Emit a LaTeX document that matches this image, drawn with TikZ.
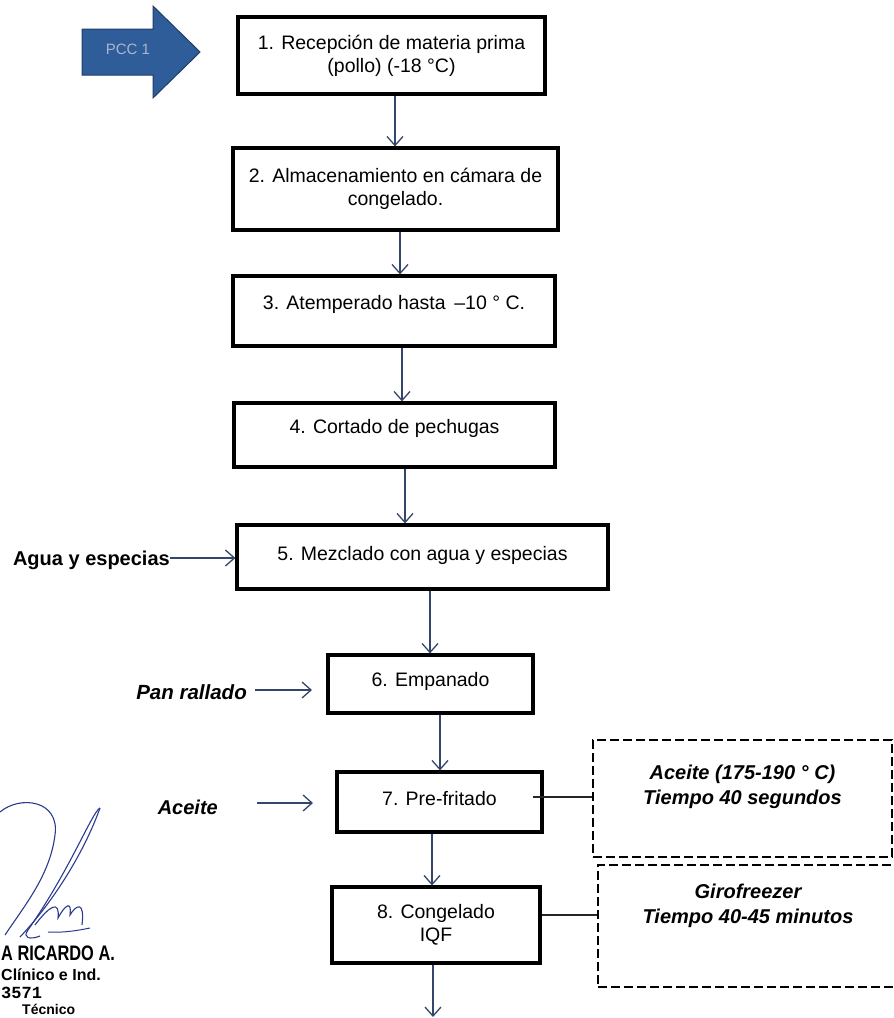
\documentclass[tikz,border=0pt]{standalone}
\usepackage{fontspec}
\setmainfont{Liberation Sans}
\newfontfamily\narrowsans[FakeStretch=0.78]{Liberation Sans}
\newfontfamily\stampmono{Liberation Mono}
\usetikzlibrary{arrows.meta}
\definecolor{flow}{HTML}{34466B}
\definecolor{pccfill}{HTML}{2F5D9A}
\definecolor{pccedge}{HTML}{1E3D68}
\definecolor{pcctext}{HTML}{A9B7CC}
\definecolor{sig}{HTML}{2B3A8C}
\newcommand{\upby}[2]{\raisebox{#1}[\height][\depth]{#2}}
\tikzset{
  stepbox/.style={draw=black, line width=3.2pt, align=center, inner sep=0pt, font=\fontsize{19.5}{23}\selectfont},
  flowarrow/.style={draw=flow, line width=1.3pt, -{Straight Barb[length=9pt,width=16pt,line width=1.3pt]}},
  notebox/.style={draw=black, line width=2.6pt, dash pattern=on 9pt off 4pt, align=center, inner sep=0pt, font=\fontsize{20}{25}\selectfont\bfseries\itshape},
  inlabel/.style={font=\fontsize{20}{22}\selectfont\bfseries, anchor=east, inner sep=0pt},
  link/.style={draw=black!85, line width=1.6pt},
  stamp/.style={font=\fontsize{16}{17}\selectfont\bfseries, anchor=west, inner sep=0pt}
}
\begin{document}
\begin{tikzpicture}[x=1pt,y=-1pt]
\useasboundingbox (0,0) rectangle (894,1018);
% PCC arrow
\draw[fill=pccfill, draw=pccedge, line width=1pt] (82,29) -- (153,29) -- (153,6) -- (200,52) -- (153,98) -- (153,75) -- (82,75) -- cycle;
\node[text=pcctext, font=\fontsize{15}{16}\selectfont] (pcc) at (128,49) {PCC 1};
% steps
\node[stepbox, minimum width=307pt, minimum height=77pt] (s1) at (391.5,55.5) {1. Recepción de materia prima\\(pollo) (-18 °C)};
\node[stepbox, minimum width=325pt, minimum height=82pt] (s2) at (395.5,189) {2. Almacenamiento en cámara de\\congelado.};
\node[stepbox, minimum width=322pt, minimum height=70pt] (s3) at (394,311) {\upby{7pt}{3. Atemperado hasta \,–10 ° C.}};
\node[stepbox, minimum width=321pt, minimum height=64pt] (s4) at (394.5,435) {\upby{7pt}{4. Cortado de pechugas}};
\node[stepbox, minimum width=371pt, minimum height=64pt] (s5) at (422.5,557) {\upby{2pt}{5. Mezclado con agua y especias}};
\node[stepbox, minimum width=205pt, minimum height=58pt] (s6) at (430.5,684) {\upby{3pt}{6. Empanado}};
\node[stepbox, minimum width=205pt, minimum height=60pt] (s7) at (439.5,802) {\upby{3pt}{7. Pre-fritado}};
\node[stepbox, minimum width=208pt, minimum height=76pt] (s8) at (436,925) {8. Congelado\\IQF};
% vertical flow
\coordinate (a12) at (395,94);  \coordinate (b12) at (395,148);
\coordinate (a23) at (400,230); \coordinate (b23) at (400,276);
\coordinate (a34) at (402,346); \coordinate (b34) at (402,403);
\coordinate (a45) at (405,467); \coordinate (b45) at (405,525);
\coordinate (a56) at (430,589); \coordinate (b56) at (430,655);
\coordinate (a67) at (440,713); \coordinate (b67) at (440,772);
\coordinate (a78) at (432,832); \coordinate (b78) at (432,887);
\coordinate (a8e) at (433,963); \coordinate (end) at (433,1017);
\draw[flowarrow] (s1.south -| a12) -- (s2.north -| b12);
\draw[flowarrow] (s2.south -| a23) -- (s3.north -| b23);
\draw[flowarrow] (s3.south -| a34) -- (s4.north -| b34);
\draw[flowarrow] (s4.south -| a45) -- (s5.north -| b45);
\draw[flowarrow] (s5.south -| a56) -- (s6.north -| b56);
\draw[flowarrow] (s6.south -| a67) -- (s7.north -| b67);
\draw[flowarrow] (s7.south -| a78) -- (s8.north -| b78);
\draw[flowarrow] (s8.south -| a8e) -- (end);
% inputs
\node[inlabel] (agua) at (170,560) {Agua y especias};
\draw[flowarrow] (agua.east |- 0,558) -- (s5.west |- 0,558);
\node[inlabel, font=\fontsize{20.5}{22}\selectfont\bfseries\itshape] (pan) at (247,692) {Pan rallado};
\coordinate (p0) at (255,690);
\coordinate (p6) at (312,690);
\draw[flowarrow] (p0) -- (p6);
\node[inlabel, font=\fontsize{20}{22}\selectfont\bfseries\itshape] (aceite) at (218,807) {Aceite};
\coordinate (a0) at (257,803);
\coordinate (a7) at (313,803);
\draw[flowarrow] (a0) -- (a7);
% notes
\node[notebox, minimum width=299pt, minimum height=117pt] (n1) at (742.5,798.5) {\upby{12pt}{Aceite (175-190 ° C)}\\\upby{12pt}{Tiempo 40 segundos}};
\node[notebox, minimum width=300pt, minimum height=122pt] (n2) at (748,926) {\upby{20pt}{Girofreezer}\\\upby{20pt}{Tiempo 40-45 minutos}};
\draw[link] (533,797) -- (n1.west |- 0,797);
\draw[link] (s8.east |- 0,915) -- (n2.west |- 0,915);
% signature
\draw[sig, line width=1.1pt] (0,812) .. controls (20,795) and (60,800) .. (55,835) .. controls (50,875) and (25,905) .. (5,935);
\draw[sig, line width=1.1pt] (100,808) .. controls (85,850) and (55,900) .. (20,937);
\draw[sig, line width=1.1pt] (100,808) .. controls (92,812) and (70,870) .. (28,930) .. controls (22,938) and (30,940) .. (40,936);
\draw[sig, line width=1.1pt] (35,925) .. controls (50,905) and (60,900) .. (58,918) .. controls (65,905) and (72,900) .. (70,915) .. controls (76,905) and (85,900) .. (82,925);
\draw[sig, line width=1pt] (48,932) .. controls (65,933) and (80,930) .. (90,928);
% stamp
\node[stamp, font=\fontsize{21}{21}\selectfont\narrowsans\bfseries] (st1) at (1,953) {A RICARDO A.};
\node[stamp] (st2) at (1,975) {Clínico e Ind.};
\node[stamp, font=\fontsize{17}{18}\selectfont\stampmono\bfseries] (st3) at (1,993) {3571};
\node[stamp, font=\fontsize{14}{15}\selectfont\bfseries] (st4) at (22,1009) {Técnico};
\end{tikzpicture}
\end{document}
